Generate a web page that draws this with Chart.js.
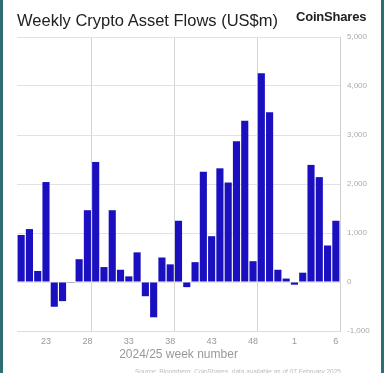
<!DOCTYPE html>
<html>
<head>
<meta charset="utf-8">
<script src="https://cdn.jsdelivr.net/npm/chart.js@4"></script>
<style>
  html, body { margin: 0; padding: 0; }
  body { width: 384px; height: 373px; background: #2d6e72; position: relative; overflow: hidden; }
  #card { position: absolute; left: 3px; top: 0; width: 378px; height: 373px; background: #fff; }
  #wrap { position: absolute; left: 0; top: 0; width: 384px; height: 373px; }
  .title { position: absolute; left: 17px; top: 10px; font: 16.5px "Liberation Sans", Arial, sans-serif; line-height: 20px; color: #222; white-space: nowrap; }
  .logo { position: absolute; left: 296px; top: 9px; font: bold 13px "Liberation Sans", Arial, sans-serif; line-height: 16px; color: #222; letter-spacing: -0.2px; }
  .source { position: absolute; left: 135px; top: 368px; font: 6.5px "Liberation Sans", Arial, sans-serif; color: #bbb; white-space: nowrap; }
</style>
</head>
<body>
<div id="card"></div>
<div id="wrap"><canvas id="flowChart" width="384" height="373"></canvas></div>
<div class="title">Weekly Crypto Asset Flows (US$m)</div>
<div class="logo">CoinShares</div>
<div class="source">Source: Bloomberg, CoinShares, data available as of 07 February 2025</div>
<script>
// week numbers, 2024 wk20 .. 2025 wk6
const weeks = ['20', '21', '22', '23', '24', '25', '26', '27', '28', '29',
               '30', '31', '32', '33', '34', '35', '36', '37', '38', '39',
               '40', '41', '42', '43', '44', '45', '46', '47', '48', '49',
               '50', '51', '52', '1', '2', '3', '4', '5', '6'];
// weekly flows, US$m
const flows = [960, 1080, 225, 2040, -505, -390, -15, 465, 1465, 2450,
               305, 1465, 250, 115, 605, -290, -720, 500, 360, 1250,
               -105, 405, 2250, 935, 2320, 2030, 2875, 3290, 425, 4260,
               3465, 250, 70, -55, 190, 2390, 2140, 745, 1250];
const yTicks = [-1000, 0, 1000, 2000, 3000, 4000, 5000];

const ctx = document.getElementById('flowChart').getContext('2d');
const flowChart = new Chart(ctx, {
    type: 'bar',
    data: {
        labels: weeks,
        datasets: [{
            label: 'Flows (US$m)',
            data: flows,
            backgroundColor: '#1a10c0',
            borderWidth: 0,
            barPercentage: 0.86,
            categoryPercentage: 1
        }]
    },
    options: {
        responsive: false,
        animation: false,
        layout: { padding: { left: 17, top: 37, right: 0, bottom: 0 } },
        plugins: {
            legend: { display: false },
            tooltip: { enabled: false }
        },
        scales: {
            x: {
                offset: true,
                grid: {
                    offset: true,
                    drawTicks: false,
                    color: (c) => (c.index !== undefined && c.index % 10 === 9) ? '#d4d4d4' : 'rgba(0,0,0,0)'
                },
                border: { display: true, color: '#dcdcdc' },
                ticks: {
                    autoSkip: false,
                    maxRotation: 0,
                    padding: 5,
                    color: '#999',
                    font: { family: 'Liberation Sans', size: 9 },
                    callback: (value, index) => index % 5 === 3 ? weeks[index] : ''
                },
                title: {
                    display: true,
                    text: '2024/25 week number',
                    color: '#999',
                    font: { family: 'Liberation Sans', size: 12 },
                    padding: { top: 0, bottom: 11 }
                },
                afterFit: (scale) => { scale.height = 42; }
            },
            y: {
                position: 'right',
                min: yTicks[0],
                max: yTicks[yTicks.length - 1],
                afterBuildTicks: (scale) => { scale.ticks = yTicks.map(v => ({ value: v })); },
                grid: { color: '#e2e2e2', drawTicks: false },
                border: { display: true, color: '#cfcfcf' },
                ticks: {
                    padding: 7,
                    color: '#aaa',
                    font: { family: 'Liberation Sans', size: 8 },
                    callback: (value) => value.toLocaleString('en-US')
                },
                afterFit: (scale) => { scale.width = 44; }
            }
        }
    }
});
</script>
</body>
</html>
